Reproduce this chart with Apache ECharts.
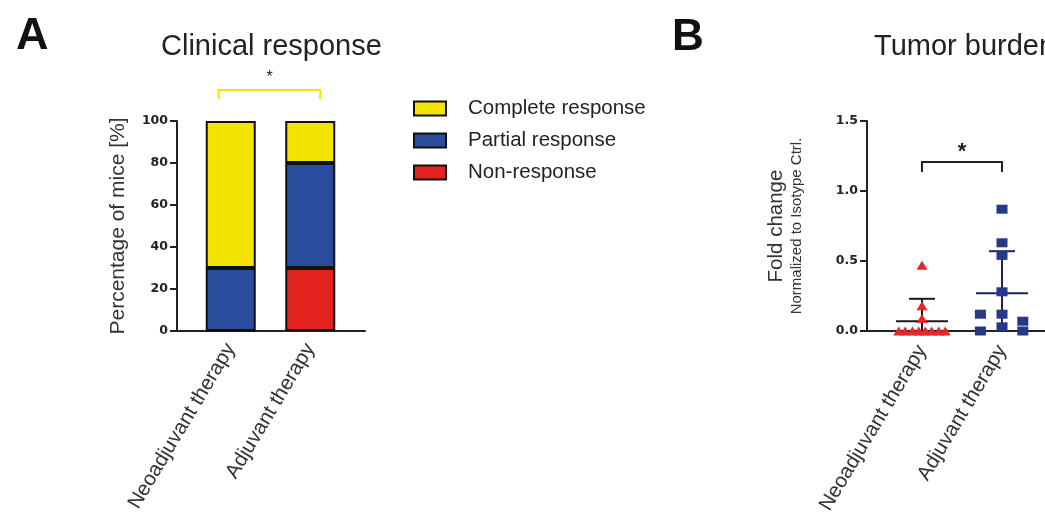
<!DOCTYPE html>
<html>
<head>
<meta charset="utf-8">
<script src="https://cdn.jsdelivr.net/npm/echarts@6/dist/echarts.min.js"></script>
<style>
html,body{margin:0;padding:0;background:#fff;}
#chart{width:1045px;height:517px;}
</style>
</head>
<body>
<div id="chart"></div>
<script>
// ---- Panel A data (Clinical response, % of mice) ----
const categories = ['Neoadjuvant therapy', 'Adjuvant therapy'];
const nonResponse = [0, 30];
const partialResponse = [30, 50];
const completeResponse = [70, 20];
const legendNames = ['Complete response', 'Partial response', 'Non-response'];

// ---- Panel B data (Tumor burden, fold change) ----
const neoValues = [0.47, 0.18, 0.09, 0, 0, 0, 0, 0, 0, 0, 0];
const neoJitter = [0, 0, 0, -0.29, -0.21, -0.12, -0.04, 0.04, 0.12, 0.21, 0.29];
const adjValues = [0.87, 0.63, 0.54, 0.28, 0.12, 0.03, 0.12, 0, 0.07, 0];
const adjJitter = [0, 0, 0, 0, 0, 0, -0.27, -0.27, 0.26, 0.26];
const groupMeans = [0.07, 0.27];
const groupSDs = [0.16, 0.30];

const FONT = 'Liberation Sans, Arial, Helvetica, sans-serif';
const TICKFONT = 'DejaVu Sans, Liberation Sans, Arial, sans-serif';
const AXIS = '#222';
const YELLOW = '#f2e400', BLUE = '#2a4c9c', RED = '#e3231f';
const NAVY = '#263888', TRI_RED = '#e8262a';

const chart = echarts.init(document.getElementById('chart'), null, {renderer: 'canvas'});

function barSeries(name, data, color) {
  return {
    name: name, type: 'bar', stack: 'total', xAxisIndex: 0, yAxisIndex: 0,
    data: data, barWidth: 50,
    itemStyle: {color: color, borderColor: '#111', borderWidth: 2},
    emphasis: {disabled: true}
  };
}

const bracketA = [[0, 1, 114.8, 110.5]];
const bracketB = [[0, 1, 1.207, 1.136]];

function bracketRender(colorLine, starFont, starSize, starLift, extL, extR) {
  return function (params, api) {
    const yTop = api.value(2), yLeg = api.value(3);
    const p0 = api.coord([api.value(0), yTop]);
    const p1 = api.coord([api.value(1), yTop]);
    const leg = api.coord([api.value(0), yLeg]);
    const xl = p0[0] - extL, xr = p1[0] + extR;
    return {
      type: 'group',
      children: [
        {type: 'polyline', shape: {points: [[xl, leg[1]], [xl, p0[1]], [xr, p0[1]], [xr, leg[1]]]},
         style: {stroke: colorLine, lineWidth: 2, fill: null}},
        {type: 'text', x: (xl + xr) / 2, y: p0[1] - starLift,
         style: {text: '*', align: 'center', verticalAlign: 'middle', fontSize: starSize,
                 fontWeight: starFont, fontFamily: FONT, fill: '#222'}}
      ]
    };
  };
}

const errColors = ['#1a1a1a', '#1e2555'];
const errData = groupMeans.map((m, i) => [i, m, groupSDs[i]]);

const option = {
  backgroundColor: '#fff',
  animation: false,
  textStyle: {fontFamily: FONT},
  title: [
    {text: 'A', left: 11, top: 9, textStyle: {fontSize: 45, fontWeight: 'bold', color: '#111', fontFamily: FONT}},
    {text: 'Clinical response', left: 156, top: 27, textStyle: {fontSize: 29, fontWeight: 'normal', color: '#222', fontFamily: FONT}},
    {text: 'B', left: 667, top: 11, textStyle: {fontSize: 44, fontWeight: 'bold', color: '#111', fontFamily: FONT}},
    {text: 'Tumor burden', left: 869, top: 27, textStyle: {fontSize: 29, fontWeight: 'normal', color: '#222', fontFamily: FONT}}
  ],
  legend: {
    data: legendNames, orient: 'vertical', left: 413, top: 98, padding: 0,
    itemWidth: 32, itemHeight: 14, itemGap: 11, icon: 'rect',
    selectedMode: false,
    textStyle: {fontSize: 20.5, lineHeight: 20, color: '#222', fontFamily: FONT, padding: [0, 0, 0, 17]}
  },
  grid: [
    {left: 191, width: 159, top: 121, height: 210},
    {left: 177, width: 188, top: 121, height: 210},
    {left: 867, width: 178, top: 121, height: 210},
    {left: 882, width: 160, top: 121, height: 210}
  ],
  xAxis: [
    {gridIndex: 0, type: 'category', data: categories, boundaryGap: true,
     axisLine: {show: false}, axisTick: {show: false},
     axisLabel: {rotate: 59, margin: 14, fontSize: 20.5, color: '#333', fontFamily: FONT}},
    {gridIndex: 1, type: 'value', min: 0, max: 1,
     axisLine: {show: true, onZero: false, lineStyle: {color: AXIS, width: 2}},
     axisTick: {show: false}, axisLabel: {show: false}, splitLine: {show: false}},
    {gridIndex: 2, type: 'value', min: -0.6875, max: 1.5375,
     axisLine: {show: true, onZero: false, lineStyle: {color: AXIS, width: 2}},
     axisTick: {show: false}, axisLabel: {show: false}, splitLine: {show: false}},
    {gridIndex: 3, type: 'category', data: categories, boundaryGap: true,
     axisLine: {show: false}, axisTick: {show: false},
     axisLabel: {rotate: 59, margin: 18, fontSize: 20.5, color: '#333', fontFamily: FONT}}
  ],
  yAxis: [
    {gridIndex: 0, type: 'value', min: 0, max: 100, interval: 20, offset: 14,
     name: 'Percentage of mice [%]', nameLocation: 'middle', nameGap: 48,
     nameTextStyle: {fontSize: 21, color: '#333', fontFamily: FONT},
     axisLine: {show: true, onZero: false, lineStyle: {color: AXIS, width: 2}},
     axisTick: {show: true, length: 7, lineStyle: {color: AXIS, width: 2}},
     axisLabel: {margin: 9, fontSize: 12.5, fontWeight: 'bold', color: '#222', fontFamily: TICKFONT},
     splitLine: {show: false}},
    {gridIndex: 1, type: 'value', show: false, min: 0, max: 1},
    {gridIndex: 2, type: 'value', min: 0, max: 1.5, interval: 0.5,
     name: '{a|Fold change}\n{b|Normalized to Isotype Ctrl.}', nameLocation: 'middle', nameGap: 61,
     nameTextStyle: {
       color: '#333', align: 'center',
       rich: {
         a: {fontSize: 20.5, lineHeight: 24, color: '#333', fontFamily: FONT, align: 'center'},
         b: {fontSize: 15, lineHeight: 18, color: '#333', fontFamily: FONT, align: 'center'}
       }
     },
     axisLine: {show: true, onZero: false, lineStyle: {color: AXIS, width: 2}},
     axisTick: {show: true, length: 7, lineStyle: {color: AXIS, width: 2}},
     axisLabel: {margin: 9, fontSize: 12.5, fontWeight: 'bold', color: '#222', fontFamily: TICKFONT,
                 formatter: v => v.toFixed(1)},
     splitLine: {show: false}},
    {gridIndex: 3, type: 'value', show: false, min: 0, max: 1}
  ],
  series: [
    barSeries('Non-response', nonResponse, RED),
    barSeries('Partial response', partialResponse, BLUE),
    barSeries('Complete response', completeResponse, YELLOW),
    {
      type: 'custom', xAxisIndex: 0, yAxisIndex: 0, clip: false, silent: true,
      data: bracketA, renderItem: bracketRender(YELLOW, 'normal', 16, 12, 12, 10), z: 5
    },
    {
      type: 'custom', xAxisIndex: 2, yAxisIndex: 2, clip: false, silent: true,
      data: errData, z: 2,
      renderItem: function (params, api) {
        const x = api.value(0), m = api.value(1), s = api.value(2);
        const c = api.coord([x, m]);
        const top = api.coord([x, m + s]);
        const bot = api.coord([x, Math.max(0, m - s)]);
        const col = errColors[params.dataIndex];
        const st = {stroke: col, lineWidth: 2};
        const children = [
          {type: 'line', shape: {x1: c[0] - 26, y1: c[1], x2: c[0] + 26, y2: c[1]}, style: st},
          {type: 'line', shape: {x1: c[0], y1: top[1], x2: c[0], y2: bot[1]}, style: st},
          {type: 'line', shape: {x1: c[0] - 13, y1: top[1], x2: c[0] + 13, y2: top[1]}, style: st}
        ];
        if (m - s > 0) {
          children.push({type: 'line', shape: {x1: c[0] - 13, y1: bot[1], x2: c[0] + 13, y2: bot[1]}, style: st});
        }
        return {type: 'group', children: children};
      }
    },
    {
      type: 'scatter', xAxisIndex: 2, yAxisIndex: 2, z: 3, silent: true,
      symbol: 'triangle', symbolSize: [11, 9],
      itemStyle: {color: TRI_RED, opacity: 1},
      data: neoValues.map((v, i) => [0 + neoJitter[i], v])
    },
    {
      type: 'scatter', xAxisIndex: 2, yAxisIndex: 2, z: 3, silent: true,
      symbol: 'rect', symbolSize: [11, 9],
      itemStyle: {color: NAVY, opacity: 1},
      data: adjValues.map((v, i) => [1 + adjJitter[i], v])
    },
    {
      type: 'custom', xAxisIndex: 2, yAxisIndex: 2, clip: false, silent: true,
      data: bracketB, renderItem: bracketRender('#222', 'bold', 22, 10, 0, 0), z: 5
    }
  ]
};
chart.setOption(option);
</script>
</body>
</html>
